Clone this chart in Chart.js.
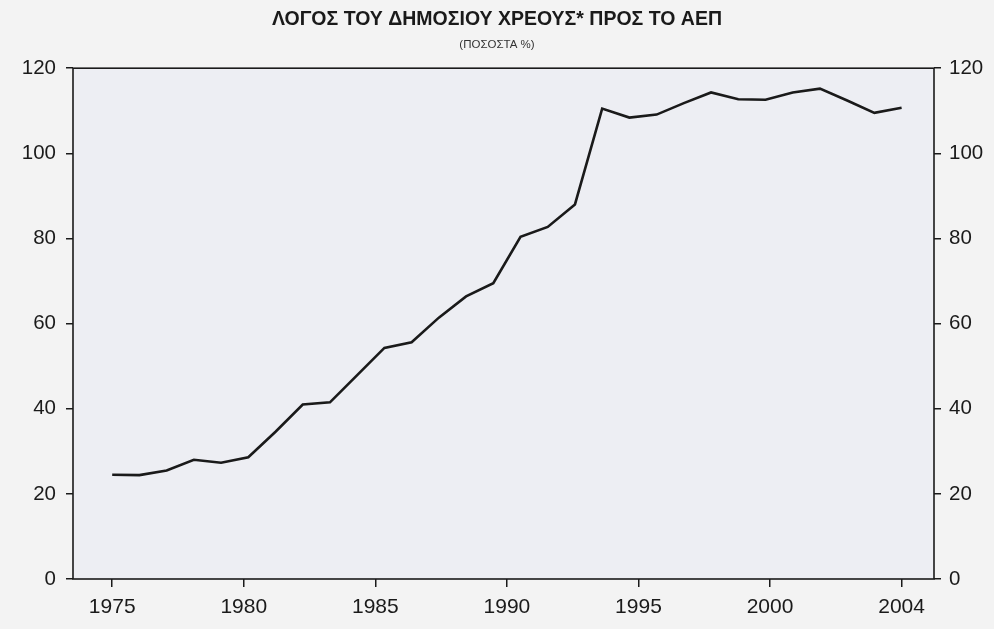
<!DOCTYPE html>
<html>
<head>
<meta charset="utf-8">
<script src="https://cdn.jsdelivr.net/npm/chart.js@4.4.0/dist/chart.umd.min.js"></script>
<style>
  html, body { margin: 0; padding: 0; background: #f3f3f3; }
  #wrap { width: 994px; height: 629px; }
</style>
</head>
<body>
<div id="wrap"><canvas id="myChart" width="994" height="629"></canvas></div>
<script>
// Jahre und Werte (Schuldenquote in % des BIP)
const years = [1975, 1976, 1977, 1978, 1979, 1980, 1981, 1982, 1983, 1984,
  1985, 1986, 1987, 1988, 1989, 1990, 1991, 1992, 1993, 1994,
  1995, 1996, 1997, 1998, 1999, 2000, 2001, 2002, 2003, 2004];
const debtRatio = [24.5, 24.4, 25.5, 28.0, 27.3, 28.6, 34.6, 41.0, 41.5, 47.9,
  54.3, 55.6, 61.4, 66.4, 69.5, 80.4, 82.7, 88.0, 110.5, 108.4,
  109.1, 111.8, 114.3, 112.7, 112.6, 114.3, 115.2, 112.4, 109.5, 110.7];

// Beschriftungen der x-Achse (gleichmäßig verteilt vom ersten bis zum letzten Jahr)
const xTickLabels = ["1975", "1980", "1985", "1990", "1995", "2000", "2004"];

const titleText = "ΛΟΓΟΣ ΤΟΥ ΔΗΜΟΣΙΟΥ ΧΡΕΟΥΣ* ΠΡΟΣ ΤΟ ΑΕΠ";
const subtitleText = "(ΠΟΣΟΣΤΑ %)";

const fontFamily = "'Liberation Sans', Arial, sans-serif";
const ink = "#1a1a1a";

// Hintergrund und Rahmen der Zeichenfläche
const framePlugin = {
  id: "frame",
  beforeDraw(chart) {
    const a = chart.chartArea;
    const c = chart.ctx;
    c.save();
    c.fillStyle = "#edeef3";
    c.fillRect(a.left, a.top, a.right - a.left, a.bottom - a.top);
    c.restore();
  },
  afterDraw(chart) {
    const a = chart.chartArea;
    const c = chart.ctx;
    c.save();
    c.strokeStyle = ink;
    c.lineWidth = 1.6;
    c.strokeRect(a.left, a.top, a.right - a.left, a.bottom - a.top);
    c.restore();
  },
};

const first = years[0];
const last = years[years.length - 1];

const yAxis = (pos, width, pad) => ({
  position: pos,
  min: 0,
  max: 120,
  afterFit(scale) { scale.width = width; },
  ticks: {
    stepSize: 20,
    color: ink,
    padding: pad,
    font: { family: fontFamily, size: 20.5 },
  },
  grid: { drawOnChartArea: false, tickLength: 7, color: ink, lineWidth: 1.5 },
  border: { display: false },
});

new Chart(document.getElementById("myChart").getContext("2d"), {
  type: "line",
  data: {
    datasets: [{
      data: years.map((y, i) => ({ x: y, y: debtRatio[i] })),
      borderColor: ink,
      borderWidth: 2.6,
      pointRadius: 0,
      tension: 0,
      fill: false,
    }],
  },
  options: {
    responsive: false,
    animation: false,
    layout: { padding: 0 },
    plugins: {
      legend: { display: false },
      tooltip: { enabled: false },
      title: {
        display: true,
        text: titleText,
        color: ink,
        font: { family: fontFamily, size: 19.5, weight: "bold" },
        padding: { top: 8, bottom: 4 },
      },
      subtitle: {
        display: true,
        text: subtitleText,
        color: "#333",
        font: { family: fontFamily, size: 11.5 },
        padding: { top: 3, bottom: 16 },
      },
    },
    scales: {
      x: {
        type: "linear",
        min: 1973.56,
        max: 2005.19,
        afterFit(scale) { scale.height = 50; },
        afterBuildTicks(scale) {
          const n = xTickLabels.length - 1;
          scale.ticks = xTickLabels.map((l, i) => ({ value: first + i * (last - first) / n }));
        },
        ticks: {
          color: ink,
          padding: 8,
          maxRotation: 0,
          autoSkip: false,
          font: { family: fontFamily, size: 21 },
          callback: (v, i) => xTickLabels[i],
        },
        grid: { drawOnChartArea: false, tickLength: 8, color: ink, lineWidth: 1.5 },
        border: { display: false },
      },
      y: yAxis("left", 73, 10),
      y2: yAxis("right", 60, 8),
    },
  },
  plugins: [framePlugin],
});
</script>
</body>
</html>
